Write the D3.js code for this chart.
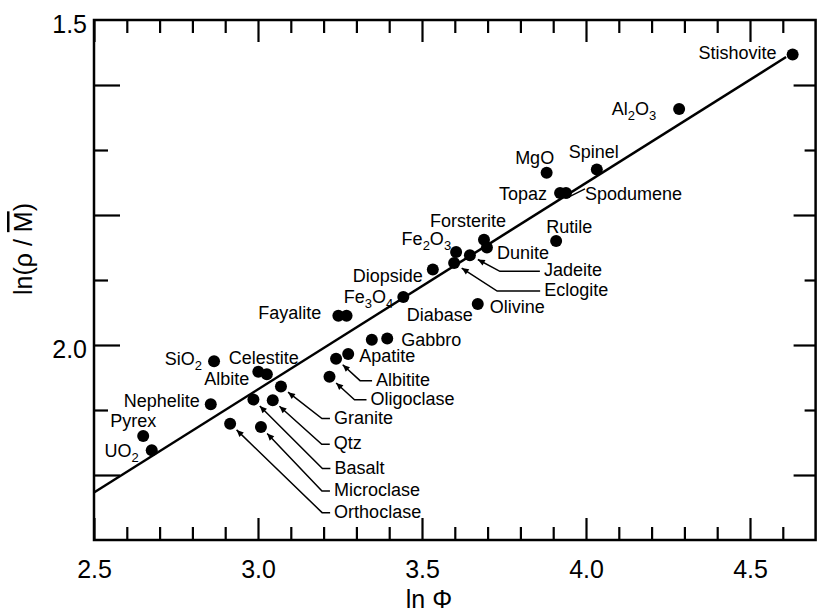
<!DOCTYPE html>
<html>
<head>
<meta charset="utf-8">
<script src="https://cdn.jsdelivr.net/npm/d3@7"></script>
<style>
  body { margin: 0; background: #fff; }
  text { font-family: "Liberation Sans", Arial, Helvetica, sans-serif; fill: #000; }
</style>
</head>
<body>
<svg id="chart" width="819" height="615"></svg>
<script>
// values
var names = ['Stishovite', 'Al2O3', 'MgO', 'Spinel', 'Topaz', 'Spodumene', 'Forsterite', 'Dunite',
  'Rutile', 'Fe2O3', 'Jadeite', 'Eclogite', 'Diopside', 'Fe3O4', 'Olivine', 'Fayalite', '',
  'Diabase', 'Gabbro', 'Albitite', 'Apatite', 'Oligoclase', 'SiO2', 'Albite', 'Celestite',
  'Granite', 'Qtz', 'Basalt', 'Nephelite', 'Orthoclase', 'Microclase', 'Pyrex', 'UO2'];
var lnPhi = [4.630, 4.284, 3.880, 4.033, 3.921, 3.939, 3.689, 3.698,
  3.909, 3.604, 3.646, 3.598, 3.533, 3.443, 3.670, 3.245, 3.270,
  3.347, 3.394, 3.238, 3.275, 3.218, 2.866, 3.001, 3.027,
  3.070, 3.045, 2.986, 2.856, 2.915, 3.009, 2.650, 2.676];
var lnRhoM = [1.553, 1.637, 1.735, 1.730, 1.766, 1.766, 1.838, 1.850,
  1.840, 1.857, 1.862, 1.874, 1.884, 1.926, 1.937, 1.955, 1.955,
  1.992, 1.990, 2.021, 2.014, 2.049, 2.025, 2.041, 2.045,
  2.064, 2.085, 2.084, 2.091, 2.121, 2.126, 2.140, 2.162];

var fitX = [2.5, 4.61];
var fitY = [2.227, 1.557];

var xTicks = d3.range(25, 47).map(function (d) { return d / 10; });
var yTicks = d3.range(15, 23).map(function (d) { return d / 10; });
var xLabels = [2.5, 3.0, 3.5, 4.0, 4.5];
var yLabels = [1.5, 2.0];

// label placement: [dx, dy, anchor] from the dot
var labelPos = {
  'Stishovite': [-16, 5, 'end'],
  'Al2O3': [-23, 6, 'end'],
  'MgO': [-12, -9, 'middle'],
  'Spinel': [-3, -12, 'middle'],
  'Topaz': [-13, 7, 'end'],
  'Spodumene': [19, 7, 'start'],
  'Forsterite': [-16, -13, 'middle'],
  'Dunite': [10, 11, 'start'],
  'Rutile': [-10, -8, 'start'],
  'Fe2O3': [-5, -7, 'end'],
  'Diopside': [-10, 12, 'end'],
  'Fe3O4': [-10, 6, 'end'],
  'Olivine': [12, 9, 'start'],
  'Fayalite': [-17, 3, 'end'],
  'Diabase': [35, -19, 'start'],
  'Gabbro': [14, 7, 'start'],
  'Apatite': [11, 8, 'start'],
  'SiO2': [-12, 4, 'end'],
  'Celestite': [-38, -10, 'start'],
  'Albite': [-9, 13, 'end'],
  'Nephelite': [-11, 3, 'end'],
  'Pyrex': [-33, -9, 'start'],
  'UO2': [-13, 7, 'end']
};

// arrow callouts: [text dx, text dy, horizontal run]
var callouts = {
  'Granite': [53, 37, 8],
  'Qtz': [61, 49, 8],
  'Basalt': [81, 74, 8],
  'Microclase': [73, 69, 8],
  'Orthoclase': [104, 94, 8],
  'Albitite': [40, 27, 12],
  'Oligoclase': [41, 28, 12],
  'Jadeite': [74, 21, 40],
  'Eclogite': [90, 33, 43]
};

var svg = d3.select('#chart');

var x = d3.scaleLinear().domain([2.5, 4.7]).range([94, 815.6]);
var y = d3.scaleLinear().domain([1.5, 2.3]).range([20, 540]);

function isMajorX(d) {
  return Math.round(d * 10) % 5 === 0;
}

function isLongY(d) {
  return Math.round(d * 10) % 2 === 0;
}

var fmt = d3.format('.1f');

// bottom
var gx = svg.append('g')
  .attr('transform', 'translate(0,540)')
  .call(d3.axisBottom(x).tickValues(xTicks).tickSize(-13)
    .tickFormat(function (d) { return xLabels.indexOf(d) >= 0 ? fmt(d) : ''; }));
gx.attr('font-size', 25).attr('font-family', null);
gx.select('.domain').remove();
gx.selectAll('.tick line')
  .attr('y2', function (d) { return isMajorX(d) ? -22 : -13; })
  .attr('stroke-width', 2.2);
gx.selectAll('.tick text').attr('y', 38).attr('dy', 0);

// top
var gt = svg.append('g')
  .attr('transform', 'translate(0,20)')
  .call(d3.axisTop(x).tickValues(xTicks).tickSize(-13).tickFormat(''));
gt.select('.domain').remove();
gt.selectAll('.tick line')
  .attr('y2', function (d) { return isMajorX(d) ? 22 : 13; })
  .attr('stroke-width', 2.2);

// left
var gy = svg.append('g')
  .attr('transform', 'translate(94,0)')
  .call(d3.axisLeft(y).tickValues(yTicks).tickSize(-14)
    .tickFormat(function (d) { return yLabels.indexOf(d) >= 0 ? fmt(d) : ''; }));
gy.attr('font-size', 25).attr('font-family', null);
gy.select('.domain').remove();
gy.selectAll('.tick line')
  .attr('x2', function (d) { return d === 1.5 ? 0 : (isLongY(d) ? 26 : 14); })
  .attr('stroke-width', 2.2);
gy.selectAll('.tick text').attr('x', -7).attr('dy', 12);

// right
var gr = svg.append('g')
  .attr('transform', 'translate(815.6,0)')
  .call(d3.axisRight(y).tickValues(yTicks).tickSize(-11).tickFormat(''));
gr.select('.domain').remove();
gr.selectAll('.tick line')
  .attr('x2', function (d) { return d === 1.5 ? 0 : (isLongY(d) ? -22 : -11); })
  .attr('stroke-width', 2.2);

svg.append('rect')
  .attr('x', x(2.5))
  .attr('y', y(1.5))
  .attr('width', x(4.7) - x(2.5))
  .attr('height', y(2.3) - y(1.5))
  .attr('fill', 'none')
  .attr('stroke', '#000')
  .attr('stroke-width', 2.5);

// axis titles
svg.append('text')
  .attr('x', 429)
  .attr('y', 608)
  .attr('text-anchor', 'middle')
  .attr('font-size', 25)
  .text('ln \u03A6');

var yt = svg.append('text')
  .attr('transform', 'translate(32,249) rotate(-90)')
  .attr('text-anchor', 'middle')
  .attr('font-size', 25);
yt.append('tspan').text('ln(\u03C1 / ');
yt.append('tspan').style('text-decoration', 'overline').text('M');
yt.append('tspan').text(')');

// fit line
var fit = fitX.map(function (d, i) { return [d, fitY[i]]; });
svg.append('path')
  .datum(fit)
  .attr('d', d3.line().x(function (d) { return x(d[0]); }).y(function (d) { return y(d[1]); }))
  .attr('fill', 'none')
  .attr('stroke', '#000')
  .attr('stroke-width', 2.5);

var pts = names.map(function (n, i) {
  return { name: n, px: x(lnPhi[i]), py: y(lnRhoM[i]) };
});

svg.selectAll('.dot')
  .data(pts)
  .enter()
  .append('circle')
  .attr('class', 'dot')
  .attr('cx', function (d) { return d.px; })
  .attr('cy', function (d) { return d.py; })
  .attr('r', 6)
  .attr('fill', '#000');

function addName(sel, str) {
  var sub = false;
  str.match(/[A-Za-z]+|\d+/g).forEach(function (p) {
    var t = sel.append('tspan').text(p);
    if (/\d/.test(p)) {
      t.attr('font-size', 13).attr('dy', 5);
      sub = true;
    }
    else if (sub) {
      t.attr('dy', -5);
      sub = false;
    }
  });
}

pts.forEach(function (d) {
  var lp = labelPos[d.name];
  if (!lp) return;
  var t = svg.append('text')
    .attr('x', d.px + lp[0])
    .attr('y', d.py + lp[1])
    .attr('text-anchor', lp[2])
    .attr('font-size', 18);
  addName(t, d.name);
  if (d.name === 'Spodumene') {
    svg.append('line')
      .attr('x1', d.px + 1).attr('y1', d.py + 5)
      .attr('x2', d.px + 19).attr('y2', d.py - 4)
      .attr('stroke', '#000').attr('stroke-width', 1.5);
  }
});

svg.append('defs').append('marker')
  .attr('id', 'arr')
  .attr('viewBox', '0 0 10 10')
  .attr('refX', 10)
  .attr('refY', 5)
  .attr('markerWidth', 11)
  .attr('markerHeight', 7)
  .attr('markerUnits', 'userSpaceOnUse')
  .attr('orient', 'auto')
  .append('path')
  .attr('d', 'M0,0.5L10,5L0,9.5Z')
  .attr('fill', '#000');

pts.forEach(function (d) {
  var c = callouts[d.name];
  if (!c) return;
  var tx = d.px + c[0], ty = d.py + c[1];
  var ex = tx - 4, ey = ty - 5;
  var bx = ex - c[2];
  var vx = bx - d.px, vy = ey - d.py;
  var len = Math.sqrt(vx * vx + vy * vy);
  var tipx = d.px + vx / len * 9, tipy = d.py + vy / len * 9;
  svg.append('path')
    .attr('d', 'M' + ex + ',' + ey + 'L' + bx + ',' + ey + 'L' + tipx + ',' + tipy)
    .attr('fill', 'none')
    .attr('stroke', '#000')
    .attr('stroke-width', 1.5)
    .attr('marker-end', 'url(#arr)');
  svg.append('text')
    .attr('x', tx)
    .attr('y', ty)
    .attr('font-size', 18)
    .text(d.name);
});
</script>
</body>
</html>
